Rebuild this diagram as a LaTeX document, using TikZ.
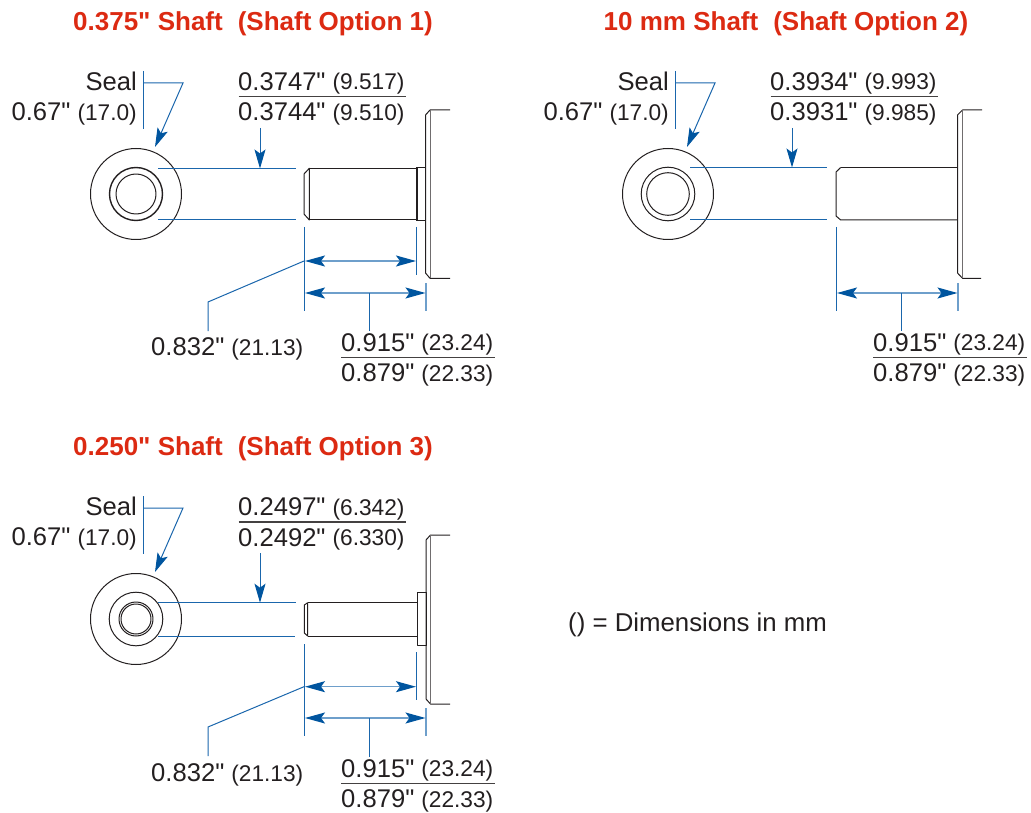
\documentclass[tikz,border=0pt]{standalone}
\usepackage{fontspec}
\setmainfont[Ligatures=TeXOff]{Liberation Sans}
\usetikzlibrary{arrows.meta}
\definecolor{dimblue}{HTML}{1A66AC}
\definecolor{headblue}{HTML}{00559F}
\definecolor{lightblue}{HTML}{6E9FCB}
\definecolor{inkc}{HTML}{231F20}
\definecolor{titlered}{HTML}{DC2A12}
\newcommand{\bigt}[1]{{\fontsize{25.6}{26}\selectfont #1}}
\newcommand{\smlt}[1]{{\fontsize{22.7}{23}\selectfont #1}}
\newcommand{\vtext}[3]{\bigt{#1}\hspace{7pt}\raisebox{#3}{\smlt{#2}}}
\tikzset{
  x=1pt,y=-1pt,
  ink/.style={draw=inkc,line width=1pt,line join=round},
  inkthick/.style={draw=inkc,line width=1.4pt},
  inkgrey/.style={draw=inkc!65,line width=.9pt},
  dimline/.style={draw=dimblue,line width=1pt},
  dimsoft/.style={draw=lightblue,line width=1.3pt},
  tipend/.style={-{Stealth[length=19pt,width=11pt,inset=4pt,color=headblue]},dimline},
  tipboth/.style={{Stealth[length=20pt,width=11pt,inset=4pt,color=headblue]}-{Stealth[length=20pt,width=11pt,inset=4pt,color=headblue]},dimsoft},
  lbl/.style={text=inkc,inner sep=0pt,anchor=base west},
  lblr/.style={text=inkc,inner sep=0pt,anchor=base east},
  ttl/.style={text=titlered,inner sep=0pt,anchor=base,font=\bfseries\fontsize{26}{26}\selectfont},
  rule/.style={draw=inkc!85,line width=1.2pt},
}
% #1 prefix, #2 dy
\newcommand{\sealblock}[2]{
  \begin{scope}[yshift=-#2pt]
  \node[lblr] (#1seal) at (137,90.7) {\bigt{Seal}};
  \node[lblr] (#1dia) at (137,120.7) {\vtext{0.67"}{(17.0)}{0pt}};
  \coordinate (#1v1) at (143.5,71);
  \coordinate (#1v2) at (143.5,129);
  \coordinate (#1h1) at (143.5,83);
  \coordinate (#1h2) at (183,83);
  \coordinate (#1h3) at (155,147);
  \draw[dimline] (#1v1) -- (#1v2);
  \draw[tipend] (#1h1) -- (#1h2) -- (#1h3);
  \end{scope}
}
% #1 prefix, #2 dy, #3 upper, #4 lower
\newcommand{\sizeblock}[4]{
  \begin{scope}[yshift=-#2pt]
  \node[lbl] (#1upper) at (238,90.7) {#3};
  \node[lbl] (#1lower) at (238,121) {#4};
  \coordinate (#1rl) at (238.5,96.9);
  \coordinate (#1rr) at (406,96.9);
  \draw[rule] (#1rl) -- (#1rr);
  \end{scope}
}
% #1 prefix, #2 dy (bottom tolerance block)
\newcommand{\tolblock}[2]{
  \begin{scope}[yshift=-#2pt]
  \node[lbl] (#1tolu) at (341,351.5) {\vtext{0.915"}{(23.24)}{1.5pt}};
  \node[lbl] (#1toll) at (341,381.7) {\vtext{0.879"}{(22.33)}{0pt}};
  \coordinate (#1tl) at (341,357.8);
  \coordinate (#1tr) at (495,357.8);
  \draw[rule] (#1tl) -- (#1tr);
  \end{scope}
}
\begin{document}
\begin{tikzpicture}
\useasboundingbox (0,0) rectangle (1031,813);

% ---------- Titles ----------
\node[ttl] (t1) at (253,31) {0.375" Shaft\hspace{.3em} (Shaft Option 1)};
\node[ttl] (t2) at (786,31) {10 mm Shaft\hspace{.3em} (Shaft Option 2)};
\node[ttl] (t3) at (253,455) {0.250" Shaft\hspace{.3em} (Shaft Option 3)};
\node[lbl] (note) at (568,631) {\fontsize{25.8}{26}\selectfont () = Dimensions in mm};

% ---------- Panel 1 ----------
\sealblock{a}{0}
\sizeblock{a}{0}{\vtext{0.3747"}{(9.517)}{1.5pt}}{\vtext{0.3744"}{(9.510)}{.5pt}}
\tolblock{a}{0}
\node[lbl] (alen) at (151,355.5) {\vtext{0.832"}{(21.13)}{0pt}};
\draw[ink] (136,194) circle[radius=45.5];
\draw[inkthick] (136,194) circle[radius=26.5];
\draw[ink] (136,194) circle[radius=20];
\draw[ink] (309.3,168.3) -- (304,174) -- (304,214) -- (309.3,220) -- cycle;
\draw[ink] (309.3,168.3) -- (416.7,168.3);
\draw[ink] (309.3,220) -- (416.7,220);
\draw[inkthick] (417,167.5) -- (417,220.7);
\draw[ink] (417,167.3) -- (425.5,167.3);
\draw[ink] (417,220.7) -- (425.5,220.7);
\draw[ink] (450,110) -- (430,110) -- (425.5,115) -- (425.5,273) -- (430,278.3) -- (450,278.3);
\draw[inkgrey] (430,110) -- (430,278.3);
\coordinate (ae1) at (158,168.5); \coordinate (ae2) at (296,168.5);
\coordinate (ae3) at (158,219.5); \coordinate (ae4) at (296,219.5);
\draw[dimline] (ae1) -- (ae2);
\draw[dimline] (ae3) -- (ae4);
\coordinate (ad0) at (260,128); \coordinate (ad1) at (260,168.5);
\draw[tipend] (ad0) -- (ad1);
\coordinate (ax1) at (304.5,227); \coordinate (ax2) at (304.5,311);
\coordinate (ax3) at (416.5,227); \coordinate (ax4) at (416.5,275);
\coordinate (ax5) at (426,283); \coordinate (ax6) at (426,311);
\draw[dimline] (ax1) -- (ax2);
\draw[dimline] (ax3) -- (ax4);
\draw[dimsoft] (ax5) -- (ax6);
\coordinate (al1) at (305,261); \coordinate (al2) at (416,261);
\coordinate (al3) at (305,293); \coordinate (al4) at (425.5,293);
\draw[tipboth] (al1) -- (al2);
\draw[tipboth] (al3) -- (al4);
\coordinate (ac1) at (369,293); \coordinate (ac2) at (369,331);
\draw[dimline] (ac1) -- (ac2);
\coordinate (ag1) at (304,261); \coordinate (ag2) at (208,302); \coordinate (ag3) at (208,331);
\draw[dimline] (ag1) -- (ag2) -- (ag3);

% ---------- Panel 2 ----------
\begin{scope}[xshift=532pt]
\sealblock{b}{0}
\sizeblock{b}{0}{\vtext{0.3934"}{(9.993)}{1.5pt}}{\vtext{0.3931"}{(9.985)}{.5pt}}
\tolblock{b}{0}
\end{scope}
\draw[ink] (668,194) circle[radius=45.5];
\draw[ink] (668,194) circle[radius=26.8];
\draw[ink] (668,194) circle[radius=21.3];
\draw[ink] (840.7,167.5) -- (836,172) -- (836,216) -- (840.7,220) -- (957.5,220);
\draw[ink] (840.7,167.5) -- (957.5,167.5);
\draw[ink] (982,110) -- (962.5,110) -- (957.5,115) -- (957.5,273) -- (962.5,278.3) -- (981,278.3);
\draw[inkgrey] (962.5,110) -- (962.5,278.3);
\coordinate (be1) at (690,167.5); \coordinate (be2) at (827,167.5);
\coordinate (be3) at (690,220); \coordinate (be4) at (827,220);
\draw[dimline] (be1) -- (be2);
\draw[dimline] (be3) -- (be4);
\coordinate (bd0) at (792,128); \coordinate (bd1) at (792,167.5);
\draw[tipend] (bd0) -- (bd1);
\coordinate (bx1) at (836.5,227); \coordinate (bx2) at (836.5,311);
\coordinate (bx5) at (958,283); \coordinate (bx6) at (958,311);
\draw[dimline] (bx1) -- (bx2);
\draw[dimsoft] (bx5) -- (bx6);
\coordinate (bl3) at (837,293); \coordinate (bl4) at (957.5,293);
\draw[tipboth] (bl3) -- (bl4);
\coordinate (bc1) at (901,293); \coordinate (bc2) at (901,331);
\draw[dimline] (bc1) -- (bc2);

% ---------- Panel 3 ----------
\sealblock{c}{425}
\sizeblock{c}{425}{\vtext{0.2497"}{(6.342)}{.5pt}}{\vtext{0.2492"}{(6.330)}{.5pt}}
\tolblock{c}{426}
\node[lbl] (clen) at (151,781) {\vtext{0.832"}{(21.13)}{0pt}};
\draw[ink] (136,619) circle[radius=45.5];
\draw[ink] (136,619) circle[radius=26.8];
\draw[ink] (136,619) circle[radius=17];
\draw[ink] (136,619) circle[radius=15];
\draw[ink] (307.7,602.7) -- (304.3,605) -- (304.3,633) -- (307.7,636) -- cycle;
\draw[ink] (307.7,602.7) -- (417,602.7);
\draw[ink] (307.7,636) -- (417,636);
\draw[ink] (417,592.7) rectangle (426,645.7);
\draw[ink] (450,535) -- (430.5,535) -- (426,540) -- (426,699) -- (430.5,704) -- (450,704);
\draw[inkgrey] (430.5,535) -- (430.5,704);
\coordinate (ce1) at (158,602.7); \coordinate (ce2) at (296,602.7);
\coordinate (ce3) at (158,636); \coordinate (ce4) at (295,636);
\draw[dimline] (ce1) -- (ce2);
\draw[dimline] (ce3) -- (ce4);
\coordinate (cd0) at (260,553); \coordinate (cd1) at (260,602.7);
\draw[tipend] (cd0) -- (cd1);
\coordinate (cx1) at (304.5,644); \coordinate (cx2) at (304.5,736);
\coordinate (cx3) at (416.5,652); \coordinate (cx4) at (416.5,700);
\coordinate (cx5) at (426,708); \coordinate (cx6) at (426,736);
\draw[dimline] (cx1) -- (cx2);
\draw[dimline] (cx3) -- (cx4);
\draw[dimsoft] (cx5) -- (cx6);
\coordinate (cl1) at (305,686.7); \coordinate (cl2) at (416,686.7);
\coordinate (cl3) at (305,718); \coordinate (cl4) at (425.5,718);
\draw[tipboth] (cl1) -- (cl2);
\draw[tipboth] (cl3) -- (cl4);
\coordinate (cc1) at (369,718); \coordinate (cc2) at (369,757);
\draw[dimline] (cc1) -- (cc2);
\coordinate (cg1) at (304,686.7); \coordinate (cg2) at (208,727); \coordinate (cg3) at (208,756);
\draw[dimline] (cg1) -- (cg2) -- (cg3);
\end{tikzpicture}
\end{document}
